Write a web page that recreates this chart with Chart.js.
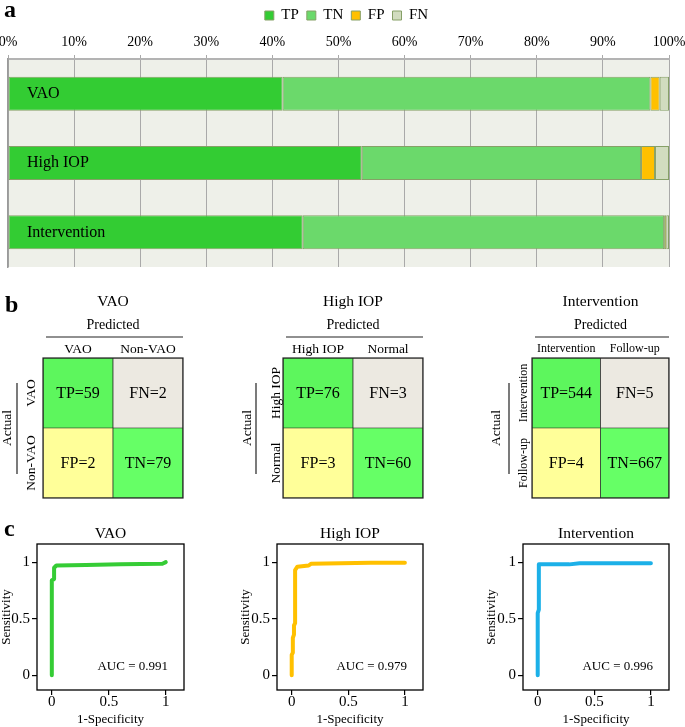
<!DOCTYPE html>
<html>
<head>
<meta charset="utf-8">
<script src="https://cdn.jsdelivr.net/npm/chart.js@4.4.1/dist/chart.umd.min.js"></script>
<style>
  body { margin: 0; background: #fff; }
  #page { position: relative; width: 685px; height: 727px; overflow: hidden; font-family: "Liberation Serif", "Times New Roman", serif; }
  canvas { position: absolute; }
  .tag { position: absolute; font-weight: bold; font-size: 24px; line-height: 24px; }
</style>
</head>
<body>
<div id="page">
  <canvas id="barChart" width="685" height="275" style="left:0;top:0"></canvas>
  <canvas id="cm0" width="236" height="226" style="left:0;top:284px"></canvas>
  <canvas id="cm1" width="240" height="226" style="left:240px;top:284px"></canvas>
  <canvas id="cm2" width="196" height="226" style="left:489px;top:284px"></canvas>
  <canvas id="roc0" width="232" height="215" style="left:0;top:512px"></canvas>
  <canvas id="roc1" width="239" height="215" style="left:239px;top:512px"></canvas>
  <canvas id="roc2" width="200" height="215" style="left:485px;top:512px"></canvas>
  <div class="tag" style="left:4px;top:-3px">a</div>
  <div class="tag" style="left:5px;top:292px">b</div>
  <div class="tag" style="left:4px;top:516px">c</div>
</div>
<script>
// tasks and confusion counts
const taskNames = ["VAO", "High IOP", "Intervention"];
const tpCounts = [59, 76, 544];
const tnCounts = [79, 60, 667];
const fpCounts = [2, 3, 4];
const fnCounts = [2, 3, 5];
const outcomeNames = ["TP", "TN", "FP", "FN"];
const predLabels = [["VAO", "Non-VAO"], ["High IOP", "Normal"], ["Intervention", "Follow-up"]];
const pctTicks = [0, 10, 20, 30, 40, 50, 60, 70, 80, 90, 100];

// ROC curves
const vaoFpr = [0, 0, 0.02, 0.02, 0.04, 0.3, 0.6, 0.97, 0.98, 1];
const vaoTpr = [0, 0.84, 0.85, 0.95, 0.97, 0.975, 0.98, 0.985, 0.99, 1];
const iopFpr = [0, 0, 0.01, 0.01, 0.02, 0.02, 0.03, 0.03, 0.05, 0.15, 0.17, 0.7, 1];
const iopTpr = [0, 0.18, 0.2, 0.33, 0.36, 0.44, 0.46, 0.93, 0.96, 0.97, 0.985, 0.995, 0.995];
const intFpr = [0, 0, 0.01, 0.01, 0.28, 0.37, 1];
const intTpr = [0, 0.55, 0.58, 0.98, 0.98, 0.99, 0.99];
const aucValues = [0.991, 0.979, 0.996];
const rocTicks = [0, 0.5, 1];

Chart.defaults.font.family = '"Liberation Serif", "Times New Roman", serif';
Chart.defaults.color = "#000";

const serif = Chart.defaults.font.family;

// ---------- panel a: 100% stacked bars ----------
const counts = [tpCounts, tnCounts, fpCounts, fnCounts];
const totals = taskNames.map((_, i) => tpCounts[i] + tnCounts[i] + fpCounts[i] + fnCounts[i]);
const barColors = ["#33cc33", "#6bd96b", "#ffc000", "#d1dcbf"];

const plotBg = {
  id: "plotBg",
  beforeDraw(chart) {
    const a = chart.chartArea;
    const ctx = chart.ctx;
    ctx.save();
    ctx.fillStyle = "#eef0e9";
    ctx.fillRect(a.left, a.top, a.right - a.left, a.bottom - a.top);
    ctx.restore();
  }
};

new Chart(document.getElementById("barChart"), {
  type: "bar",
  data: {
    labels: taskNames,
    datasets: outcomeNames.map((name, k) => ({
      label: name,
      data: counts[k].map((c, i) => c / totals[i] * 100),
      backgroundColor: barColors[k],
      borderColor: "#86a067",
      borderWidth: 1,
      borderSkipped: false,
      barPercentage: 0.49,
      categoryPercentage: 1
    }))
  },
  options: {
    indexAxis: "y",
    responsive: false,
    animation: false,
    layout: { padding: { left: 8, right: 0, top: 0, bottom: 8 } },
    plugins: {
      legend: {
        position: "top",
        labels: { boxWidth: 9, boxHeight: 9, padding: 8, color: "#000", font: { size: 15 } }
      },
      tooltip: { enabled: false }
    },
    scales: {
      x: {
        position: "top",
        stacked: true,
        min: 0,
        max: 100,
        afterBuildTicks: s => { s.ticks = pctTicks.map(v => ({ value: v })); },
        afterFit: s => { s.height = 26; s.paddingLeft = 0; s.paddingRight = 0; },
        ticks: { callback: v => v + "%", font: { size: 14, lineHeight: 1 }, color: "#000", padding: 6, maxRotation: 0 },
        grid: { color: "#a9a9a9", tickLength: 4 },
        border: { color: "#b3b3b3", width: 2 }
      },
      y: {
        stacked: true,
        afterFit: s => { s.width = 0; s.paddingTop = 0; s.paddingBottom = 0; },
        grid: { display: false, drawTicks: false },
        border: { color: "#9a9a9a", width: 1.5 },
        ticks: { mirror: true, padding: 19, z: 1, font: { size: 16 }, color: "#000" }
      },
      // empty right-hand strip so the legend centres like the original
      yRight: {
        type: "category",
        position: "right",
        labels: taskNames,
        afterFit: s => { s.width = 16; s.paddingTop = 0; s.paddingBottom = 0; },
        grid: { display: false, drawTicks: false },
        border: { display: false },
        ticks: { display: false }
      }
    }
  },
  plugins: [plotBg]
});

// ---------- panel b: confusion matrices ----------
const cellColors = { tp: "#5df65d", tn: "#66ff66", fp: "#ffff99", fn: "#ece9e1" };
const cmGeo = [
  { right: 53, rowOff: 12, lineOff: 26, labelSize: 13.5, tickPad: 2 },
  { right: 57, rowOff: 7, lineOff: 27, labelSize: 13.5, tickPad: 2 },
  { right: 16, rowOff: 8, lineOff: 23, labelSize: 12, tickPad: 3 }
];

function makeMatrix(k) {
  const g = cmGeo[k];
  const cellText = [
    ["FP=" + fpCounts[k], "TN=" + tnCounts[k]],
    ["TP=" + tpCounts[k], "FN=" + fnCounts[k]]
  ];
  const matrixDecor = {
    id: "matrixDecor",
    afterDatasetsDraw(chart) {
      const ctx = chart.ctx;
      const a = chart.chartArea;
      const ys = chart.scales.y;
      ctx.save();
      // cell values
      ctx.font = "16px " + serif;
      ctx.fillStyle = "#000";
      ctx.textAlign = "center";
      ctx.textBaseline = "middle";
      chart.data.datasets.forEach((ds, d) => {
        chart.getDatasetMeta(d).data.forEach((el, i) => {
          const p = el.getCenterPoint();
          ctx.fillText(cellText[d][i], p.x, p.y + 1);
        });
      });
      // outer frame
      ctx.strokeStyle = "#222";
      ctx.lineWidth = 1.2;
      ctx.strokeRect(a.left, a.top, a.right - a.left, a.bottom - a.top);
      // rule under "Predicted"
      ctx.beginPath();
      ctx.moveTo(a.left + 3, a.top - 21);
      ctx.lineTo(a.right, a.top - 21);
      ctx.stroke();
      // rule beside "Actual"
      ctx.beginPath();
      ctx.moveTo(a.left - g.lineOff, a.top + 25);
      ctx.lineTo(a.left - g.lineOff, a.top + 116);
      ctx.stroke();
      // rotated row labels
      ctx.font = g.labelSize + "px " + serif;
      [1.5, 0.5].forEach((v, r) => {
        ctx.save();
        ctx.translate(a.left - g.rowOff, ys.getPixelForValue(v));
        ctx.rotate(-Math.PI / 2);
        ctx.fillText(predLabels[k][r], 0, 0);
        ctx.restore();
      });
      ctx.restore();
    }
  };
  new Chart(document.getElementById("cm" + k), {
    type: "bar",
    data: {
      labels: predLabels[k],
      datasets: [
        { label: "neg", data: [1, 1], backgroundColor: [cellColors.fp, cellColors.tn] },
        { label: "pos", data: [1, 1], backgroundColor: [cellColors.tp, cellColors.fn] }
      ]
    },
    options: {
      responsive: false,
      animation: false,
      datasets: { bar: { barPercentage: 1, categoryPercentage: 1, borderColor: "#222", borderWidth: 0.7, borderSkipped: false } },
      layout: { padding: { left: 0, right: g.right, top: 0, bottom: 12 } },
      plugins: {
        legend: { display: false },
        tooltip: { enabled: false },
        title: { display: true, text: taskNames[k], fullSize: false, color: "#000", font: { size: 15.5, weight: "normal", lineHeight: 1.2 }, padding: { top: 8.7, bottom: 3.7 } }
      },
      scales: {
        x: {
          position: "top",
          stacked: true,
          afterFit: s => { s.height = 43; },
          grid: { display: false, drawTicks: false },
          border: { display: false },
          ticks: { font: { size: g.labelSize, lineHeight: 1 }, color: "#000", padding: g.tickPad, maxRotation: 0 },
          title: { display: true, text: "Predicted", color: "#000", font: { size: 14, lineHeight: 1 }, padding: { top: 3, bottom: 0 } }
        },
        y: {
          stacked: true,
          min: 0,
          max: 2,
          afterFit: s => { s.width = 43; },
          grid: { display: false, drawTicks: false },
          border: { display: false },
          ticks: { display: false },
          title: { display: true, text: "Actual", color: "#000", font: { size: 13.5, lineHeight: 1 }, padding: { top: 1, bottom: 0 } }
        }
      }
    },
    plugins: [matrixDecor]
  });
}
[0, 1, 2].forEach(makeMatrix);

// ---------- panel c: ROC curves ----------
const rocSets = [
  { fpr: vaoFpr, tpr: vaoTpr, color: "#35cc35" },
  { fpr: iopFpr, tpr: iopTpr, color: "#ffc000" },
  { fpr: intFpr, tpr: intTpr, color: "#1cb0e8" }
];
const rocGeo = [
  { right: 48, yWidth: 37 },
  { right: 55, yWidth: 38 },
  { right: 16, yWidth: 38 }
];

function makeRoc(k) {
  const r = rocSets[k];
  const g = rocGeo[k];
  const rocDecor = {
    id: "rocDecor",
    afterDraw(chart) {
      const ctx = chart.ctx;
      const a = chart.chartArea;
      ctx.save();
      ctx.strokeStyle = "#000";
      ctx.lineWidth = 1.3;
      ctx.strokeRect(a.left, a.top, a.right - a.left, a.bottom - a.top);
      ctx.font = "13px " + serif;
      ctx.fillStyle = "#000";
      ctx.textAlign = "right";
      ctx.textBaseline = "middle";
      ctx.fillText("AUC = " + aucValues[k].toFixed(3), a.right - 16, a.bottom - 23);
      ctx.restore();
    }
  };
  const axisCommon = {
    type: "linear",
    min: -0.13,
    max: 1.16,
    afterBuildTicks: s => { s.ticks = rocTicks.map(v => ({ value: v })); },
    grid: { drawOnChartArea: false, color: "#000", tickLength: 5, lineWidth: 1.2 },
    border: { display: false }
  };
  new Chart(document.getElementById("roc" + k), {
    type: "scatter",
    data: {
      datasets: [{
        data: r.fpr.map((x, i) => ({ x: x, y: r.tpr[i] })),
        showLine: true,
        borderColor: r.color,
        borderWidth: 4,
        borderCapStyle: "round",
        borderJoinStyle: "round",
        pointRadius: 0,
        tension: 0
      }]
    },
    options: {
      responsive: false,
      animation: false,
      layout: { padding: { left: 0, right: g.right, top: 0, bottom: 0 } },
      plugins: {
        legend: { display: false },
        tooltip: { enabled: false },
        title: { display: true, text: taskNames[k], fullSize: false, color: "#000", font: { size: 15.5, weight: "normal", lineHeight: 1.2 }, padding: { top: 12.5, bottom: 0.9 } }
      },
      scales: {
        x: Object.assign({}, axisCommon, {
          afterFit: s => { s.height = 37; },
          ticks: { callback: v => String(v), font: { size: 15, lineHeight: 1 }, color: "#000", padding: 0, maxRotation: 0 },
          title: { display: true, text: "1-Specificity", color: "#000", font: { size: 13, lineHeight: 1 }, padding: { top: 0, bottom: 0.5 } }
        }),
        y: Object.assign({}, axisCommon, {
          afterFit: s => { s.width = g.yWidth; },
          ticks: { callback: v => String(v), font: { size: 15, lineHeight: 1 }, color: "#000", padding: 2 },
          title: { display: true, text: "Sensitivity", color: "#000", font: { size: 13, lineHeight: 1 }, padding: { top: 0, bottom: 0 } }
        })
      }
    },
    plugins: [rocDecor]
  });
}
[0, 1, 2].forEach(makeRoc);
</script>
</body>
</html>
